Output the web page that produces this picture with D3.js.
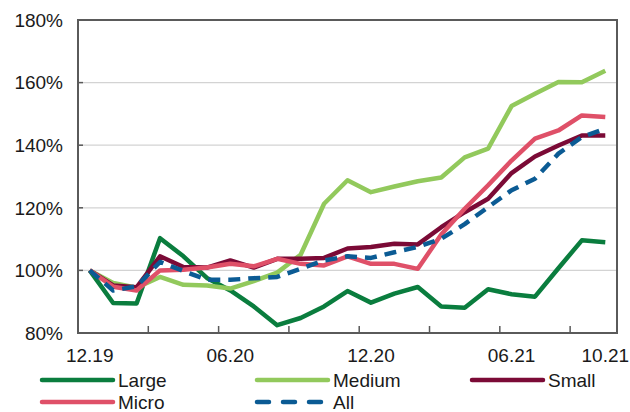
<!DOCTYPE html>
<html>
<head>
<meta charset="utf-8">
<script src="https://cdn.jsdelivr.net/npm/d3@7"></script>
<style>
  html, body { margin: 0; padding: 0; background: #fff; }
  text { font-family: "Liberation Sans", Arial, sans-serif; fill: #1a1a1a; }
</style>
</head>
<body>
<div id="chart"></div>
<script>
// Months on the category axis
var months = ["12.19", "01.20", "02.20", "03.20", "04.20", "05.20", "06.20", "07.20",
              "08.20", "09.20", "10.20", "11.20", "12.20", "01.21", "02.21", "03.21",
              "04.21", "05.21", "06.21", "07.21", "08.21", "09.21", "10.21"];
var shownLabels = ["12.19", "06.20", "12.20", "06.21", "10.21"];
var yTicks = [80, 100, 120, 140, 160, 180];

// Index values (%)
var large  = [100, 89.6, 89.4, 110.3, 104.5, 97.6, 93.6, 88.5, 82.5, 84.8, 88.5, 93.4, 89.7, 92.6, 94.7, 88.5, 88.1, 94.0, 92.4, 91.6, 100.7, 109.6, 109.0];
var medium = [100, 96.0, 94.5, 97.9, 95.4, 95.2, 94.2, 96.6, 99.3, 105.0, 121.3, 128.8, 125.0, 126.8, 128.5, 129.7, 136.1, 138.9, 152.5, 156.4, 160.2, 160.1, 163.8];
var small  = [100, 95.2, 94.6, 104.5, 101.1, 100.9, 103.2, 100.9, 103.7, 103.7, 104.0, 107.0, 107.5, 108.5, 108.3, 113.8, 118.6, 122.9, 131.1, 136.4, 139.9, 143.1, 143.1];
var micro  = [100, 94.8, 93.6, 100.0, 100.2, 100.9, 102.1, 101.3, 103.7, 102.1, 101.6, 104.5, 102.1, 102.1, 100.5, 111.5, 119.7, 127.2, 135.1, 142.1, 144.7, 149.5, 149.0];
var all    = [100, 93.6, 94.9, 102.7, 99.8, 97.0, 97.0, 97.5, 97.9, 100.5, 103.2, 104.5, 104.0, 105.8, 107.5, 110.1, 114.8, 120.2, 125.6, 129.3, 137.3, 142.6, 145.3];

var seriesNames = ["Large", "Medium", "Small", "Micro", "All"];
var seriesValues = [large, medium, small, micro, all];
var seriesColors = ["#0a7d3e", "#92c95c", "#7b0a36", "#df5068", "#0b5b94"];
var seriesDashed = [false, false, false, false, true];

var width = 630, height = 412;
var margin = { top: 20, right: 13, bottom: 79, left: 78 };

var svg = d3.select("#chart").append("svg")
    .attr("width", width)
    .attr("height", height);

var x = d3.scaleBand()
    .domain(months)
    .range([margin.left, width - margin.right])
    .padding(0);

var y = d3.scaleLinear()
    .domain([80, 180])
    .range([height - margin.bottom, margin.top]);

var plotLeft = margin.left, plotRight = width - margin.right;
var plotTop = margin.top, plotBottom = height - margin.bottom;

// gridlines
svg.append("g")
    .selectAll("line")
    .data(yTicks.filter(function(d) { return d > 80 && d < 180; }))
    .enter().append("line")
    .attr("x1", plotLeft).attr("x2", plotRight)
    .attr("y1", function(d) { return y(d); })
    .attr("y2", function(d) { return y(d); })
    .attr("stroke", "#d3d3d3")
    .attr("stroke-width", 1.3);

// y tick marks (inside)
svg.append("g")
    .selectAll("line")
    .data(yTicks)
    .enter().append("line")
    .attr("x1", plotLeft).attr("x2", plotLeft + 5)
    .attr("y1", function(d) { return y(d); })
    .attr("y2", function(d) { return y(d); })
    .attr("stroke", "#595959")
    .attr("stroke-width", 1.5);

// x tick marks every 3 months (inside)
svg.append("g")
    .selectAll("line")
    .data(months.filter(function(d, i) { return i > 0 && i % 3 === 0; }))
    .enter().append("line")
    .attr("x1", function(d) { return x(d); })
    .attr("x2", function(d) { return x(d); })
    .attr("y1", plotBottom).attr("y2", plotBottom - 7)
    .attr("stroke", "#595959")
    .attr("stroke-width", 1.5);

// plot border
svg.append("rect")
    .attr("x", plotLeft).attr("y", plotTop)
    .attr("width", plotRight - plotLeft).attr("height", plotBottom - plotTop)
    .attr("fill", "none")
    .attr("stroke", "#5a5a5a")
    .attr("stroke-width", 2);

// y labels
svg.append("g")
    .selectAll("text")
    .data(yTicks)
    .enter().append("text")
    .attr("x", plotLeft - 15)
    .attr("y", function(d) { return y(d); })
    .attr("dy", "0.36em")
    .attr("text-anchor", "end")
    .style("font-size", "19px")
    .text(function(d) { return d + "%"; });

// x labels
svg.append("g")
    .selectAll("text")
    .data(shownLabels)
    .enter().append("text")
    .attr("x", function(d) { return x(d) + x.bandwidth() / 2; })
    .attr("y", plotBottom + 29)
    .attr("text-anchor", "middle")
    .style("font-size", "19px")
    .text(function(d) { return d; });

// lines
var line = d3.line()
    .x(function(d, i) { return x(months[i]) + x.bandwidth() / 2; })
    .y(function(d) { return y(d); });

seriesValues.forEach(function(vals, k) {
    svg.append("path")
        .datum(vals)
        .attr("d", line)
        .attr("fill", "none")
        .attr("stroke", seriesColors[k])
        .attr("stroke-width", 4.5)
        .attr("stroke-linejoin", "round")
        .attr("stroke-dasharray", seriesDashed[k] ? "12,8" : null);
});

// legend
var legendPos = [
    { x: 42, y: 380 }, { x: 257, y: 380 }, { x: 472, y: 380 },
    { x: 42, y: 402 }, { x: 257, y: 402 }
];

var legend = svg.selectAll(".legend")
    .data(seriesNames)
    .enter().append("g")
    .attr("class", "legend")
    .attr("transform", function(d, i) {
        return "translate(" + legendPos[i].x + "," + legendPos[i].y + ")";
    });

legend.append("line")
    .attr("x1", 0).attr("x2", 71)
    .attr("y1", 0).attr("y2", 0)
    .attr("stroke", function(d, i) { return seriesColors[i]; })
    .attr("stroke-width", 4.5)
    .attr("stroke-linecap", "round")
    .attr("stroke-dasharray", function(d, i) { return seriesDashed[i] ? "12,14" : null; });

legend.append("text")
    .attr("x", 76)
    .attr("y", 0)
    .attr("dy", "0.36em")
    .style("font-size", "19px")
    .text(function(d) { return d; });
</script>
</body>
</html>
